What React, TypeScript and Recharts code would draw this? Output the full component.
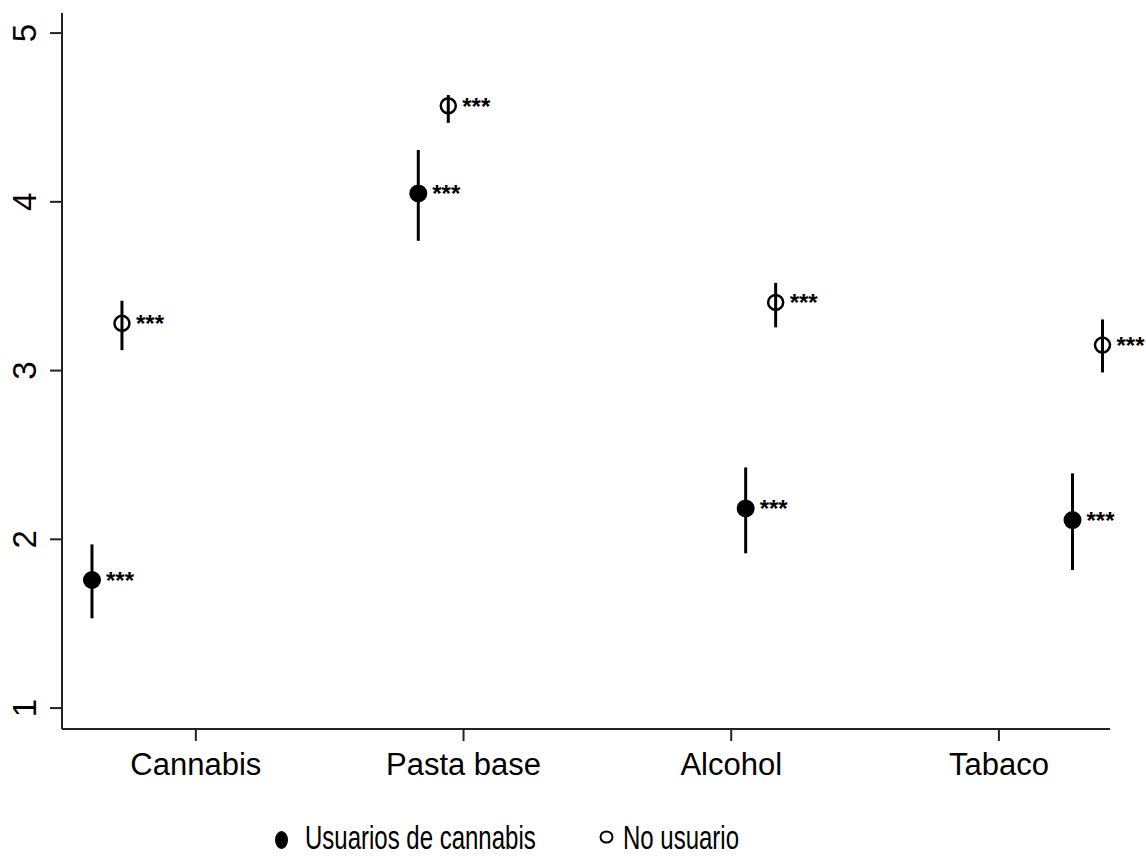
import React from 'react'
import { ScatterChart, Scatter, XAxis, YAxis, ErrorBar, Legend } from 'recharts'

const FONT = '"Liberation Sans", Arial, Helvetica, sans-serif'

// substances on the x axis
const categories = ['Cannabis', 'Pasta base', 'Alcohol', 'Tabaco']
const categoryTicks = [1, 2, 3, 4]
const yTicks = [1, 2, 3, 4, 5]

// horizontal placement of each estimate (x axis units)
const usersX = [0.612, 1.831, 3.054, 4.275]
const nonUsersX = [0.724, 1.943, 3.166, 4.387]

// usuarios de cannabis: estimate and 95% CI
const users = [1.759, 4.05, 2.183, 2.114]
const usersLo = [1.532, 3.769, 1.917, 1.818]
const usersHi = [1.97, 4.307, 2.426, 2.391]

// no usuario: estimate and 95% CI
const nonUsers = [3.28, 4.569, 3.404, 3.151]
const nonUsersLo = [3.121, 4.468, 3.256, 2.989]
const nonUsersHi = [3.414, 4.633, 3.52, 3.303]

const usersSig = ['***', '***', '***', '***']
const nonUsersSig = ['***', '***', '***', '***']

const buildRows = (xs: number[], ys: number[], lo: number[], hi: number[], sig: string[]) =>
  ys.map((y, i) => ({ x: xs[i], y, err: [y - lo[i], hi[i] - y], sig: sig[i] }))

const usersRows = buildRows(usersX, users, usersLo, usersHi, usersSig)
const nonUsersRows = buildRows(nonUsersX, nonUsers, nonUsersLo, nonUsersHi, nonUsersSig)

const Stars = ({ cx, cy, text }: { cx: number; cy: number; text: string }) => (
  <text x={cx + 14} y={cy + 9} fontSize={24} fontWeight="bold" fontFamily={FONT} fill="#000">
    {text}
  </text>
)

const FilledDot = (props: any) => {
  const { cx, cy, payload } = props
  return (
    <g>
      <circle cx={cx} cy={cy} r={9} fill="#000" />
      <Stars cx={cx} cy={cy} text={payload.sig} />
    </g>
  )
}

const HollowDot = (props: any) => {
  const { cx, cy, payload } = props
  return (
    <g>
      <circle cx={cx} cy={cy} r={7.5} fill="none" stroke="#000" strokeWidth={2.5} />
      <Stars cx={cx} cy={cy} text={payload.sig} />
    </g>
  )
}

const XTick = (props: any) => {
  const { x, y, payload } = props
  return (
    <text x={x} y={y + 32} textAnchor="middle" fontSize={31} fontFamily={FONT} fill="#000">
      {categories[payload.value - 1]}
    </text>
  )
}

const YTick = (props: any) => {
  const { y, payload } = props
  return (
    <text
      x={36}
      y={y}
      transform={`rotate(-90 36 ${y})`}
      textAnchor="middle"
      fontSize={33}
      fontFamily={FONT}
      fill="#000"
    >
      {payload.value}
    </text>
  )
}

const LegendContent = () => (
  <svg width={1146} height={40} style={{ display: 'block' }}>
    <ellipse cx={281.5} cy={21} rx={6.5} ry={9} fill="#000" />
    <text
      x={305}
      y={30}
      fontSize={24}
      fontFamily={FONT}
      fill="#000"
      transform="translate(0 30) scale(1 1.4) translate(0 -30)"
    >
      Usuarios de cannabis
    </text>
    <ellipse cx={606.5} cy={18} rx={6} ry={5.5} fill="none" stroke="#000" strokeWidth={2} />
    <text
      x={623}
      y={30}
      fontSize={24}
      fontFamily={FONT}
      fill="#000"
      transform="translate(0 30) scale(1 1.4) translate(0 -30)"
    >
      No usuario
    </text>
  </svg>
)

export default function App() {
  return (
    <div style={{ position: 'absolute', left: 0, top: 0, width: 1146, height: 860, background: '#fff' }}>
      <ScatterChart width={1146} height={860} margin={{ top: 13, right: 36, bottom: 31, left: 0 }}>
        <XAxis
          type="number"
          dataKey="x"
          domain={[0.5, 4.415]}
          ticks={categoryTicks}
          height={60}
          tickSize={12}
          tick={<XTick />}
          axisLine={{ stroke: '#222', strokeWidth: 2 }}
          tickLine={{ stroke: '#222', strokeWidth: 2 }}
        />
        <YAxis
          type="number"
          dataKey="y"
          domain={[0.876, 5.119]}
          ticks={yTicks}
          width={62}
          tickSize={12}
          tick={<YTick />}
          axisLine={{ stroke: '#222', strokeWidth: 2 }}
          tickLine={{ stroke: '#222', strokeWidth: 2 }}
        />
        <Legend
          verticalAlign="bottom"
          height={40}
          content={<LegendContent />}
          wrapperStyle={{ left: 0, bottom: 1, width: 1146, height: 40 }}
        />
        <Scatter name="Usuarios de cannabis" data={usersRows} shape={<FilledDot />} isAnimationActive={false}>
          <ErrorBar dataKey="err" direction="y" width={0} strokeWidth={3} stroke="#000" isAnimationActive={false} />
        </Scatter>
        <Scatter name="No usuario" data={nonUsersRows} shape={<HollowDot />} isAnimationActive={false}>
          <ErrorBar dataKey="err" direction="y" width={0} strokeWidth={3} stroke="#000" isAnimationActive={false} />
        </Scatter>
      </ScatterChart>
    </div>
  )
}
